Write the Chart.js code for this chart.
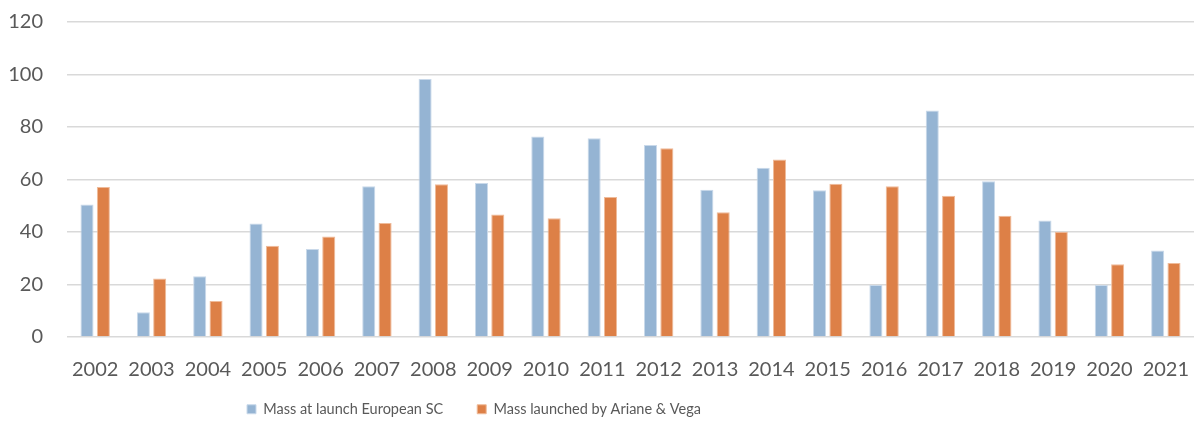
<!DOCTYPE html>
<html>
<head>
<meta charset="utf-8">
<script src="https://cdn.jsdelivr.net/npm/chart.js@4"></script>
<style>
  html, body { margin: 0; padding: 0; background: #fff; }
  #wrap { width: 1197px; height: 427px; }
</style>
</head>
<body>
<div id="wrap"><canvas id="massChart" width="1197" height="427"></canvas></div>
<script>
const years = ['2002','2003','2004','2005','2006','2007','2008','2009','2010','2011',
               '2012','2013','2014','2015','2016','2017','2018','2019','2020','2021'];
const massEuropeanSC = [50.5, 9.4, 23.1, 43.2, 33.5, 57.4, 98.3, 58.7, 76.4, 75.7,
                        73.1, 56.1, 64.5, 55.9, 19.8, 86.3, 59.3, 44.4, 19.8, 33.0];
const massArianeVega = [57.1, 22.3, 13.7, 34.8, 38.3, 43.4, 58.2, 46.7, 45.2, 53.3,
                        71.9, 47.5, 67.6, 58.4, 57.4, 53.8, 46.2, 40.1, 27.7, 28.2];
const seriesNames = ['Mass at launch European SC', 'Mass launched by Ariane & Vega'];

const textColor = '#595959';
const tickFont = { family: 'Lato, "Open Sans", sans-serif', size: 20 };
const legendFont = { family: 'Lato, "Open Sans", sans-serif', size: 14.5 };

// the source chart has its legend off-centre and close to the bottom edge
const legendPlace = {
    id: 'legendPlace',
    afterLayout(chart) {
        const lg = chart.legend;
        lg.left = 213;
        lg.top = 368;
        lg.bottom = 427;
        lg.height = lg.bottom - lg.top;
    }
};

const ctx = document.getElementById('massChart').getContext('2d');
new Chart(ctx, {
    type: 'bar',
    data: {
        labels: years,
        datasets: [
            { label: seriesNames[0], data: massEuropeanSC, backgroundColor: '#95b4d3',
              borderColor: '#c9d9ea', borderWidth: 1 },
            { label: seriesNames[1], data: massArianeVega, backgroundColor: '#dd8047',
              borderColor: '#efbb9a', borderWidth: 1 }
        ]
    },
    options: {
        responsive: false,
        animation: false,
        layout: { padding: { top: 22, right: 3, left: 0, bottom: 0 } },
        datasets: {
            bar: { categoryPercentage: 0.58, barPercentage: 0.8 }
        },
        scales: {
            x: {
                grid: { display: false, drawTicks: true, tickLength: 18 },
                border: { display: false },
                ticks: { color: textColor, font: tickFont, padding: 3, maxRotation: 0 }
            },
            y: {
                min: 0,
                max: 120,
                ticks: { stepSize: 20, color: textColor, font: tickFont, padding: 3 },
                grid: { color: '#d9d9d9', lineWidth: 1.5, drawTicks: true, tickLength: 21,
                        tickColor: 'rgba(0,0,0,0)' },
                border: { display: false },
                afterFit(scale) { scale.width = 67; }
            }
        },
        plugins: {
            legend: {
                position: 'bottom',
                align: 'start',
                maxHeight: 42,
                labels: {
                    color: textColor,
                    font: legendFont,
                    boxWidth: 9,
                    boxHeight: 9,
                    padding: 34
                }
            },
            tooltip: { enabled: false }
        }
    },
    plugins: [legendPlace]
});
</script>
</body>
</html>
